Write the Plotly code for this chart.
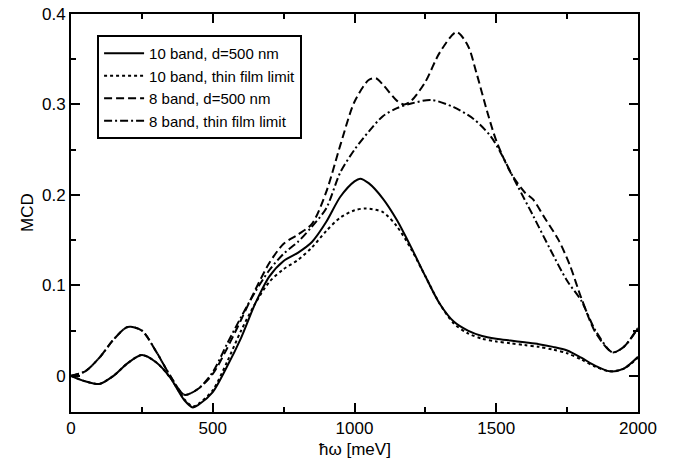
import plotly.graph_objects as go

# 10 band, d=500 nm
x_10d = [0, 50, 100, 150, 200, 250, 300, 350, 400, 430, 450, 500, 550, 600, 650, 700, 750, 800,
         850, 900, 950, 1000, 1020, 1050, 1100, 1150, 1200, 1250, 1300, 1350, 1400, 1450, 1500,
         1550, 1600, 1650, 1700, 1750, 1800, 1850, 1900, 1950, 2000]
y_10d = [0.0, -0.006, -0.009, 0.0, 0.014, 0.023, 0.015, -0.002, -0.027, -0.035, -0.032, -0.018,
         0.01, 0.042, 0.08, 0.11, 0.127, 0.136, 0.148, 0.17, 0.198, 0.215, 0.218, 0.213, 0.196,
         0.172, 0.142, 0.11, 0.08, 0.06, 0.05, 0.044, 0.041, 0.039, 0.037, 0.035, 0.032, 0.028,
         0.02, 0.011, 0.005, 0.008, 0.021]

# 10 band, thin film limit
x_10t = [0, 50, 100, 150, 200, 250, 300, 350, 400, 430, 450, 500, 550, 600, 650, 700, 750, 800,
         850, 900, 950, 1000, 1040, 1100, 1150, 1200, 1250, 1300, 1350, 1400, 1450, 1500, 1550,
         1600, 1650, 1700, 1750, 1800, 1850, 1900, 1950, 2000]
y_10t = [0.0, -0.006, -0.009, 0.0, 0.014, 0.023, 0.015, -0.002, -0.026, -0.034, -0.031, -0.016,
         0.015, 0.05, 0.08, 0.104, 0.118, 0.128, 0.142, 0.16, 0.175, 0.183, 0.185, 0.181, 0.165,
         0.14, 0.11, 0.08, 0.058, 0.047, 0.041, 0.038, 0.036, 0.034, 0.032, 0.029, 0.025, 0.018,
         0.01, 0.005, 0.008, 0.02]

# 8 band, d=500 nm
x_8d = [0, 50, 100, 150, 200, 250, 300, 350, 400, 450, 500, 550, 600, 650, 700, 750, 800, 850,
        900, 950, 1000, 1050, 1075, 1100, 1150, 1175, 1200, 1250, 1300, 1360, 1400, 1430, 1470,
        1500, 1550, 1600, 1630, 1670, 1720, 1760, 1800, 1850, 1910, 1950, 2000]
y_8d = [0.0, 0.005, 0.02, 0.04, 0.054, 0.05, 0.027, 0.0, -0.021, -0.014, 0.002, 0.03, 0.062,
        0.095, 0.125, 0.146, 0.156, 0.168, 0.203, 0.255, 0.303, 0.327, 0.329, 0.322, 0.304, 0.3,
        0.304, 0.325, 0.357, 0.38, 0.365, 0.335, 0.29, 0.26, 0.225, 0.203, 0.195, 0.175, 0.15,
        0.122, 0.086, 0.048, 0.026, 0.032, 0.053]

# 8 band, thin film limit
x_8t = [0, 50, 100, 150, 200, 250, 300, 350, 400, 450, 500, 550, 600, 650, 700, 750, 800, 850,
        900, 950, 1000, 1050, 1100, 1150, 1200, 1270, 1350, 1420, 1480, 1515, 1575, 1630, 1690,
        1750, 1800, 1850, 1910, 1950, 2000]
y_8t = [0.0, 0.005, 0.02, 0.04, 0.054, 0.05, 0.027, 0.0, -0.021, -0.014, 0.004, 0.035, 0.065,
        0.093, 0.117, 0.135, 0.148, 0.165, 0.185, 0.225, 0.25, 0.27, 0.287, 0.296, 0.301, 0.305,
        0.297, 0.284, 0.265, 0.247, 0.21, 0.177, 0.14, 0.105, 0.083, 0.05, 0.026, 0.032, 0.053]

names = ["10 band, d=500 nm", "10 band, thin film limit", "8 band, d=500 nm", "8 band, thin film limit"]
x_ticks = [0, 500, 1000, 1500, 2000]
y_ticks = [0, 0.1, 0.2, 0.3, 0.4]
y_tick_labels = ["0", "0.1", "0.2", "0.3", "0.4"]
x_title = "ħω [meV]"
y_title = "MCD"

FONT = "Liberation Sans, Arial, sans-serif"

series = [(x_10d, y_10d, "solid"), (x_10t, y_10t, "dot"),
          (x_8d, y_8d, "8px,4px"), (x_8t, y_8t, "8px,3px,2px,3px")]

fig = go.Figure()
for (xs, ys, dash), name in zip(series, names):
    fig.add_trace(go.Scatter(x=xs, y=ys, mode="lines", name=name,
                             line=dict(color="black", width=2, dash=dash, shape="spline", smoothing=0.8)))

axis_common = dict(showline=True, linecolor="black", linewidth=2, mirror="ticks",
                   ticks="inside", ticklen=9, tickwidth=1.5, tickcolor="black",
                   showgrid=False, zeroline=False, automargin=False, ticklabeloverflow="allow",
                   tickfont=dict(family=FONT, size=17, color="black"))

fig.update_xaxes(range=[0, 2000], tickvals=x_ticks,
                 minor=dict(dtick=250, ticks="inside", ticklen=5, tickcolor="black", tickwidth=1.5),
                 **axis_common)
fig.update_yaxes(range=[-0.04, 0.4], tickvals=y_ticks, ticktext=y_tick_labels,
                 minor=dict(tickvals=[0.05, 0.15, 0.25, 0.35], ticks="inside", ticklen=5, tickcolor="black", tickwidth=1.5),
                 **axis_common)

fig.add_annotation(text=x_title, xref="paper", yref="paper", x=0.5, y=0,
                   xanchor="center", yanchor="middle", yshift=-37, showarrow=False,
                   font=dict(family=FONT, size=17, color="black"))
fig.add_annotation(text=y_title, xref="paper", yref="paper", x=0, y=0.5,
                   xanchor="center", yanchor="middle", xshift=-44, textangle=-90, showarrow=False,
                   font=dict(family=FONT, size=17, color="black"))

fig.update_layout(
    width=678, height=461,
    margin=dict(l=71, r=40, t=14, b=49),
    plot_bgcolor="white", paper_bgcolor="white",
    font=dict(family=FONT, size=15, color="black"),
    legend=dict(x=0.046, y=0.947, xanchor="left", yanchor="top",
                bordercolor="black", borderwidth=2, bgcolor="white",
                font=dict(family=FONT, size=15), tracegroupgap=0, itemwidth=40),
    showlegend=True,
)

# remove the page's default 8px body margin so the figure fills the window exactly
fig.write_html("out.html", config={"displayModeBar": False},
               post_script="document.body.style.margin='0';")
